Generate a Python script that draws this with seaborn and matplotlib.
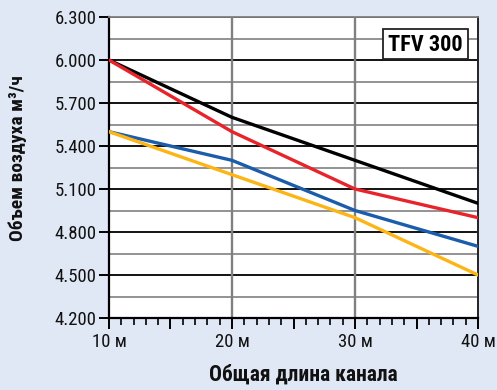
import matplotlib
matplotlib.use("Agg")
import matplotlib.pyplot as plt
import matplotlib.ticker as mticker
from matplotlib.patches import Rectangle
import numpy as np
import pandas as pd
import seaborn as sns

# Channel length (m) and air flow (m³/h) for each curve
lengths = [10, 20, 30, 40]
flow_black = [6000, 5600, 5300, 5000]
flow_red = [6000, 5500, 5100, 4900]
flow_blue = [5500, 5300, 4950, 4700]
flow_yellow = [5500, 5200, 4900, 4500]

series_names = ["black", "red", "blue", "yellow"]
series_colors = ["#000000", "#E8242B", "#1B5DAB", "#FDB515"]

y_ticks = [4200, 4500, 4800, 5100, 5400, 5700, 6000, 6300]
x_tick_labels = ["10 м", "20 м", "30 м", "40 м"]

df = pd.DataFrame({
    "length": lengths * 4,
    "flow": flow_black + flow_red + flow_blue + flow_yellow,
    "series": np.repeat(series_names, len(lengths)),
})

BG = "#E1E8F5"
sns.set_style("white")
plt.rcParams["font.family"] = ["Roboto Condensed", "DejaVu Sans"]

fig = plt.figure(figsize=(4.97, 3.90), dpi=100, facecolor=BG)
ax = fig.add_axes([0.2193, 0.1846, 0.9618 - 0.2193, 0.9564 - 0.1846])
ax.set_facecolor("white")

ax.set_xlim(10, 40)
ax.set_ylim(4200, 6300)

# horizontal grid: black at labelled values, grey halfway between
ax.yaxis.set_major_locator(mticker.FixedLocator(y_ticks))
ax.yaxis.set_minor_locator(mticker.FixedLocator([v + 150 for v in y_ticks[:-1]]))
ax.yaxis.set_major_formatter(
    mticker.FuncFormatter(lambda v, p: f"{v:,.0f}".replace(",", ".")))
ax.grid(axis="y", which="major", color="black", linewidth=1.3, zorder=1)
ax.grid(axis="y", which="minor", color="#808080", linewidth=1.2, zorder=1)
ax.grid(axis="x", visible=False)
for xv in lengths[1:-1]:
    ax.axvline(xv, color="#808080", linewidth=1.7, zorder=1)

ax.xaxis.set_major_locator(mticker.MultipleLocator(5))
ax.xaxis.set_minor_locator(mticker.MultipleLocator(1))
ax.xaxis.set_major_formatter(mticker.FuncFormatter(
    lambda v, p: x_tick_labels[lengths.index(int(round(v)))]
    if int(round(v)) in lengths else ""))

sns.lineplot(data=df, x="length", y="flow", hue="series",
             palette=dict(zip(series_names, series_colors)),
             linewidth=2.4, legend=False, ax=ax, zorder=3)

ax.tick_params(axis="y", which="major", direction="out", length=7, width=1.4,
               color="black", labelsize=13.5, pad=2, left=True)
ax.tick_params(axis="y", which="minor", length=0)
ax.tick_params(axis="x", which="major", direction="out", length=8, width=1.4,
               color="black", labelsize=13.5, pad=3, bottom=True)
ax.tick_params(axis="x", which="minor", direction="out", length=5, width=1.2,
               color="black", bottom=True)
for lab in ax.get_xticklabels() + ax.get_yticklabels():
    lab.set_color("#111111")

for side in ["left", "bottom"]:
    ax.spines[side].set_color("black")
    ax.spines[side].set_linewidth(1.6)
ax.spines["right"].set_color("#222222")
ax.spines["right"].set_linewidth(1.4)
ax.spines["top"].set_color("#808080")
ax.spines["top"].set_linewidth(1.3)

ax.set_xlabel("Общая длина канала", fontsize=15.5, fontweight="bold",
              color="#111111")
ax.xaxis.set_label_coords(0.526, -0.152)
ax.set_ylabel("Объем воздуха м³/ч", fontsize=14, fontweight="bold",
              color="#111111")
ax.yaxis.set_label_coords(-0.222, 0.53)

# model badge in the upper right corner
ax.add_patch(Rectangle((0.7425, 0.860), 0.2305, 0.100, transform=ax.transAxes,
                       facecolor="white", edgecolor="#222222", linewidth=1.3,
                       zorder=5))
ax.text(0.8577, 0.908, "TFV 300", transform=ax.transAxes, ha="center",
        va="center", fontsize=16, fontweight="bold", color="black", zorder=6)

fig.savefig("out.png", dpi=100, facecolor=BG)
